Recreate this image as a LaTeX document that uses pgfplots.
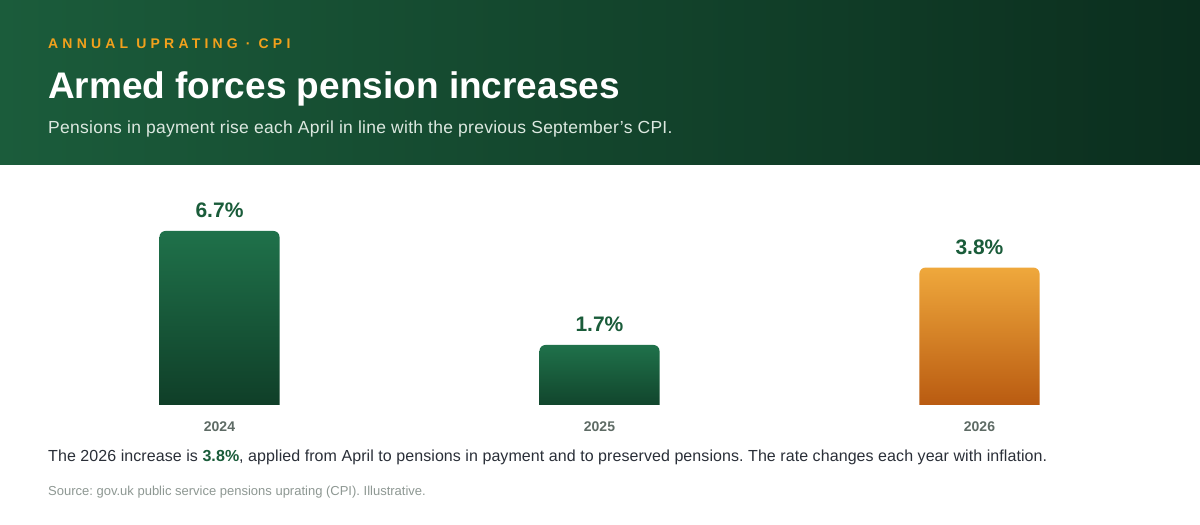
\documentclass[border=0pt]{standalone}
\usepackage{fontspec}
\setmainfont{Liberation Sans}
\usepackage{pgfplots}
\pgfplotsset{compat=1.18}
\definecolor{hdrL}{HTML}{1B5C3B}
\definecolor{hdrR}{HTML}{0B2E1E}
\definecolor{eyebrow}{HTML}{F2A11C}
\definecolor{subtxt}{HTML}{DCE8E0}
\definecolor{valgreen}{HTML}{1A5C3A}
\definecolor{yeargray}{HTML}{5E6B65}
\definecolor{bodytxt}{HTML}{2A2F38}
\definecolor{srcgray}{HTML}{8E9893}
\definecolor{gtop}{HTML}{1F714A}
\definecolor{gbot}{HTML}{0E3A25}
\definecolor{otop}{HTML}{EFA83C}
\definecolor{obot}{HTML}{B3520C}
\frenchspacing
\begin{document}
\frenchspacing
\begin{tikzpicture}[x=1pt,y=1pt]
\fill[white] (0,0) rectangle (1200,525);
\shade[left color=hdrL, right color=hdrR] (0,360) rectangle (1200,525);
\node[anchor=base west, inner sep=0, text=eyebrow, font=\fontsize{14}{16}\selectfont\bfseries\addfontfeature{LetterSpace=30}] at (48,476) {ANNUAL UPRATING · CPI};
\node[anchor=base west, inner sep=0, text=white, font=\fontsize{37}{42}\selectfont\bfseries] at (48,426) {Armed forces pension increases};
\node[anchor=base west, inner sep=0, text=subtxt, font=\fontsize{17.5}{20}\selectfont\addfontfeature{LetterSpace=1.5}] at (48,391.7) {Pensions in payment rise each April in line with the previous September's CPI.};
\node[anchor=base west, inner sep=0, text=bodytxt, font=\fontsize{16}{19}\selectfont\addfontfeature{LetterSpace=0.5}] at (48,63) {The 2026 increase is \textcolor{valgreen}{\bfseries 3.8\%}, applied from April to pensions in payment and to preserved pensions. The rate changes each year with inflation.};
\node[anchor=base west, inner sep=0, text=srcgray, font=\fontsize{13}{15}\selectfont] at (48,29) {Source: gov.uk public service pensions uprating (CPI). Illustrative.};
\begin{axis}[
  at={(29.5pt,120pt)}, anchor=south west,
  scale only axis, width=1140pt, height=207.8pt,
  xmin=-0.5, xmax=2.5, ymin=0, ymax=8,
  axis line style={draw=none},
  ytick=\empty,
  xtick={0,1,2}, xticklabels={2024,2025,2026},
  major tick length=0pt,
  xticklabel style={anchor=base, yshift=-26.7pt, text=yeargray, font=\fontsize{14}{16}\selectfont\bfseries},
  clip mode=individual,
]
\addplot[draw=none, rounded corners=6pt, top color=gtop, bottom color=gbot] coordinates {(-0.158,-0.6) (-0.158,6.7) (0.158,6.7) (0.158,-0.6)} -- cycle;
\addplot[draw=none, rounded corners=6pt, top color=gtop, bottom color=gbot] coordinates {(0.842,-0.6) (0.842,2.31) (1.158,2.31) (1.158,-0.6)} -- cycle;
\addplot[draw=none, rounded corners=6pt, top color=otop, bottom color=obot] coordinates {(1.842,-0.6) (1.842,5.29) (2.158,5.29) (2.158,-0.6)} -- cycle;
\addplot[draw=none, mark=none, nodes near coords, point meta=explicit symbolic,
  nodes near coords style={anchor=base, yshift=13.5pt, inner sep=0pt, text=valgreen, font=\fontsize{21}{24}\selectfont\bfseries}]
  coordinates {(0,6.7) [6.7\%] (1,2.31) [1.7\%] (2,5.29) [3.8\%]};
\end{axis}
\end{tikzpicture}
\end{document}
